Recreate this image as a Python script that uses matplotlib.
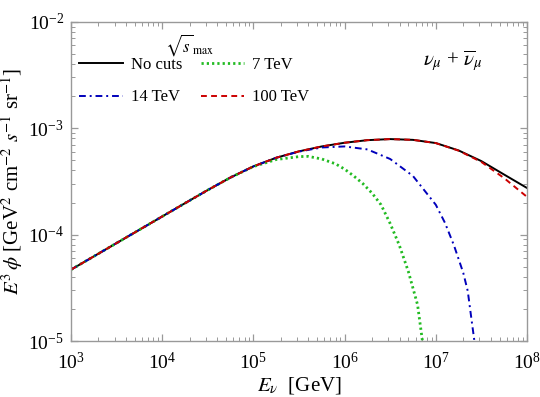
import matplotlib
matplotlib.use("Agg")
import matplotlib.pyplot as plt
from matplotlib.ticker import LogLocator, NullFormatter

plt.rcParams['font.family'] = ['Liberation Serif', 'DejaVu Serif']
plt.rcParams['mathtext.fontset'] = 'stix'

# ---- data ----
energy = [1e3, 1.78e3, 3.16e3, 5.62e3, 1e4, 1.78e4, 3.16e4, 5.62e4, 1e5, 1.78e5,
          3.16e5, 5.62e5, 1e6, 1.78e6, 3.16e6, 5.62e6, 1e7, 1.78e7, 3.16e7, 5.62e7, 1e8]
flux_nocuts = [4.68e-5, 6.24e-5, 8.32e-5, 1.109e-4, 1.479e-4, 1.972e-4, 2.62e-4, 3.44e-4, 4.37e-4, 5.27e-4,
               6.05e-4, 6.73e-4, 7.29e-4, 7.71e-4, 7.89e-4, 7.76e-4, 7.24e-4, 6.17e-4, 4.90e-4, 3.66e-4, 2.74e-4]
flux_100tev = [4.68e-5, 6.24e-5, 8.32e-5, 1.109e-4, 1.479e-4, 1.972e-4, 2.62e-4, 3.44e-4, 4.37e-4, 5.27e-4,
               6.05e-4, 6.73e-4, 7.29e-4, 7.71e-4, 7.89e-4, 7.76e-4, 7.24e-4, 6.14e-4, 4.81e-4, 3.39e-4, 2.26e-4]

energy_14 = [1e3, 1.78e3, 3.16e3, 5.62e3, 1e4, 1.78e4, 3.16e4, 5.62e4, 1e5, 1.78e5, 3.16e5,
             5.62e5, 1e6, 1.78e6, 3.16e6, 5.62e6, 1e7, 1.26e7, 1.58e7, 2.0e7, 2.24e7, 2.51e7, 2.75e7]
flux_14tev = [4.68e-5, 6.24e-5, 8.32e-5, 1.109e-4, 1.479e-4, 1.972e-4, 2.62e-4, 3.44e-4, 4.37e-4, 5.27e-4, 6.02e-4,
              6.58e-4, 6.73e-4, 6.31e-4, 5.13e-4, 3.55e-4, 1.905e-4, 1.29e-4, 7.94e-5, 4.37e-5, 2.95e-5, 1.41e-5, 7.9e-6]

energy_7 = [1e3, 1.78e3, 3.16e3, 5.62e3, 1e4, 1.78e4, 3.16e4, 5.62e4, 1e5, 1.78e5, 3.16e5, 3.98e5,
            5.62e5, 7.94e5, 1e6, 1.26e6, 1.58e6, 2.0e6, 2.51e6, 3.16e6, 3.98e6, 5.01e6, 6.31e6, 7.08e6, 7.41e6]
flux_7tev = [4.68e-5, 6.24e-5, 8.32e-5, 1.109e-4, 1.479e-4, 1.972e-4, 2.62e-4, 3.44e-4, 4.35e-4, 5.07e-4, 5.40e-4, 5.43e-4,
             5.13e-4, 4.62e-4, 4.12e-4, 3.55e-4, 3.02e-4, 2.45e-4, 1.905e-4, 1.27e-4, 7.94e-5, 4.47e-5, 2.19e-5, 1.05e-5, 7.9e-6]

labels = ["No cuts", "7 TeV", "14 TeV", "100 TeV"]

# ---- figure ----
fig = plt.figure(figsize=(5.4, 3.97), dpi=100)
ax = fig.add_axes([71/540, 1-341/397, (527-71)/540, (341-21.7)/397])

l_nc, = ax.plot(energy, flux_nocuts, color='black', lw=1.4, label=labels[0])
l_7, = ax.plot(energy_7, flux_7tev, color='#22bb22', lw=2.0, linestyle=(0, (0.8, 1.1)), label=labels[1])
l_14, = ax.plot(energy_14, flux_14tev, color='#0000bb', lw=1.4, linestyle=(0, (3.5, 2.0, 1.0, 2.0)), label=labels[2])
l_100, = ax.plot(energy, flux_100tev, color='#cc0000', lw=1.4, linestyle=(0, (3.0, 2.2)), label=labels[3])

ax.set_xscale('log')
ax.set_yscale('log')
ax.set_xlim(1e3, 1e8)
ax.set_ylim(1e-5, 1e-2)

frame_col = '#999999'
for sp in ax.spines.values():
    sp.set_color(frame_col)
    sp.set_linewidth(1.0)

ax.xaxis.set_major_locator(LogLocator(base=10, numticks=10))
ax.xaxis.set_minor_locator(LogLocator(base=10, subs=range(2, 10), numticks=10))
ax.yaxis.set_major_locator(LogLocator(base=10, numticks=10))
ax.yaxis.set_minor_locator(LogLocator(base=10, subs=range(2, 10), numticks=10))
ax.xaxis.set_minor_formatter(NullFormatter())
ax.yaxis.set_minor_formatter(NullFormatter())

ax.tick_params(which='both', direction='in', top=True, right=True, color=frame_col,
               labelsize=14, labelcolor='black')
ax.tick_params(which='major', length=5, width=0.9)
ax.tick_params(axis='x', which='major', pad=8)
ax.tick_params(axis='y', which='major', pad=5)
ax.tick_params(which='minor', length=3, width=0.7)

ax.set_xlabel(r'$E_\nu$  [GeV]', fontsize=15, labelpad=1)
ax.set_ylabel(r'$E^3\,\phi$ [GeV$^2$ cm$^{-2}$ $s^{-1}$ sr$^{-1}$]', fontsize=15, labelpad=2)

ax.text(0.838, 0.875, r'$\nu_\mu$ + $\overline{\nu}_\mu$', transform=ax.transAxes,
        fontsize=15, ha='center', va='center')

ax.text(0.261, 0.927, r'$\sqrt{s}_{\,\mathrm{max}}$', transform=ax.transAxes,
        fontsize=12, ha='center', va='center')

leg = ax.legend(handles=[l_nc, l_14, l_7, l_100], ncol=2, frameon=False,
                loc='upper left', bbox_to_anchor=(0.018, 0.89),
                fontsize=12, handlelength=2.6, handletextpad=0.5,
                columnspacing=1.1, labelspacing=1.0, borderaxespad=0.0,
                borderpad=0.0)

fig.savefig('out.png', dpi=100)
